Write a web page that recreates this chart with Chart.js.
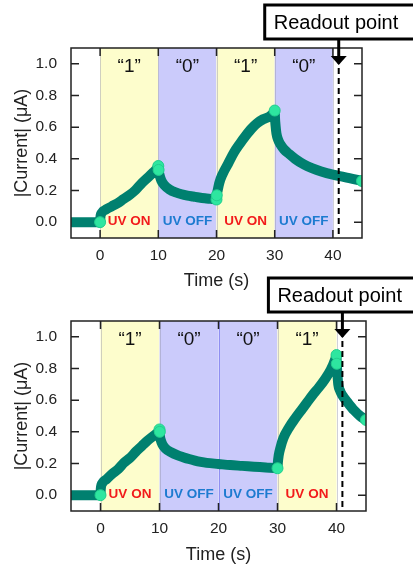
<!DOCTYPE html>
<html>
<head>
<meta charset="utf-8">
<script src="https://cdn.jsdelivr.net/npm/chart.js@4.4.1/dist/chart.umd.min.js"></script>
<style>
  html, body { margin: 0; padding: 0; background: #ffffff; }
  #wrap { position: relative; width: 413px; height: 566px; overflow: hidden; background: #fff; }
  canvas { position: absolute; left: 0; }
  #c1 { top: 0; }
  #c2 { top: 270px; }
</style>
</head>
<body>
<div id="wrap">
  <canvas id="c1" width="413" height="292"></canvas>
  <canvas id="c2" width="413" height="296"></canvas>
</div>
<script>
// ---------------- data ----------------
const xTicks = [0, 10, 20, 30, 40];
const yTicks = [0.0, 0.2, 0.4, 0.6, 0.8, 1.0];
const xTitle = "Time (s)";
const yTitle = "|Current| (\u03BCA)";
const readoutLabel = "Readout point";
const readoutTime = 41;

// top panel
const topTime = [-5, -2.5, 0, 0.05, 0.3, 1, 2, 3, 4, 5, 6, 7, 8, 9, 9.8, 10,
  10.05, 10.2, 10.5, 11, 12, 13, 14, 15, 16, 17, 18, 19, 20,
  20.05, 20.2, 20.5, 21, 22, 23, 24, 25, 26, 27, 28, 29, 29.8, 30,
  30.05, 30.15, 30.3, 30.6, 31, 31.6, 32.5, 33.5, 35, 36.5, 38, 40, 42, 45];
const topCurrent = [0, 0, 0, 0.03, 0.06, 0.08, 0.10, 0.12, 0.145, 0.17, 0.20, 0.24, 0.275, 0.31, 0.34, 0.355,
  0.33, 0.30, 0.265, 0.235, 0.205, 0.188, 0.176, 0.168, 0.162, 0.156, 0.151, 0.147, 0.143,
  0.17, 0.20, 0.25, 0.30, 0.37, 0.44, 0.495, 0.545, 0.59, 0.625, 0.65, 0.665, 0.69, 0.705,
  0.66, 0.61, 0.56, 0.52, 0.49, 0.46, 0.43, 0.40, 0.365, 0.34, 0.32, 0.30, 0.285, 0.26];
const topMarkTime = [0, 10, 10.05, 20, 20.05, 30, 45];
const topMarkCurrent = [0, 0.355, 0.33, 0.143, 0.17, 0.705, 0.26];
const topBits = ["\u201C1\u201D", "\u201C0\u201D", "\u201C1\u201D", "\u201C0\u201D"];
const topUV = ["UV ON", "UV OFF", "UV ON", "UV OFF"];

// bottom panel
const botTime = [-5, -2.5, 0, 0.05, 0.3, 1, 2, 3, 4, 5, 6, 7, 8, 9, 9.8, 10,
  10.05, 10.2, 10.5, 11, 12, 13, 14, 15, 16, 17, 18, 20, 22, 24, 26, 28, 30,
  30.05, 30.2, 30.5, 31, 32, 33, 34, 35, 36, 37, 38, 39, 39.8, 40,
  40.05, 40.15, 40.3, 40.6, 41, 42, 43, 44, 45];
const botCurrent = [0, 0, 0, 0.04, 0.075, 0.10, 0.135, 0.165, 0.205, 0.235, 0.275, 0.31, 0.345, 0.375, 0.40, 0.41,
  0.38, 0.35, 0.32, 0.295, 0.27, 0.253, 0.24, 0.228, 0.218, 0.21, 0.204, 0.197, 0.19, 0.185, 0.18, 0.175, 0.17,
  0.20, 0.25, 0.30, 0.36, 0.43, 0.485, 0.535, 0.585, 0.635, 0.68, 0.73, 0.79, 0.86, 0.885,
  0.83, 0.77, 0.70, 0.66, 0.63, 0.58, 0.535, 0.50, 0.475];
const botMarkTime = [0, 10, 10.05, 30, 40, 40.05, 45];
const botMarkCurrent = [0, 0.415, 0.40, 0.17, 0.885, 0.83, 0.475];
const botBits = ["\u201C1\u201D", "\u201C0\u201D", "\u201C0\u201D", "\u201C1\u201D"];
const botUV = ["UV ON", "UV OFF", "UV OFF", "UV ON"];

// band boundaries (s)
const bandEdges = [0, 10, 20, 30, 40];

// ---------------- drawing ----------------
const FONT = "'Liberation Sans', Arial, Helvetica, sans-serif";
const YELLOW = "#fdfdcc";
const BLUE = "#cbcbfb";
const UVCOL = { "UV ON": "#f21b1b", "UV OFF": "#1d7bd0" };

function pts(xs, ys) { return xs.map((x, i) => ({ x: x, y: ys[i] })); }

function decorPlugin(bits, uv, boxLeftOff) {
  return {
    id: 'decor',
    beforeDatasetsDraw(chart) {
      const { ctx, chartArea: a, scales: { x, y } } = chart;
      ctx.save();
      for (let i = 0; i < bandEdges.length - 1; i++) {
        const x0 = x.getPixelForValue(bandEdges[i]);
        const x1 = x.getPixelForValue(bandEdges[i + 1]);
        ctx.fillStyle = uv[i] === "UV ON" ? YELLOW : BLUE;
        ctx.fillRect(x0, a.top, x1 - x0, a.bottom - a.top);
      }
      ctx.lineWidth = 1;
      for (let i = 0; i < bandEdges.length; i++) {
        const px = Math.round(x.getPixelForValue(bandEdges[i])) + 0.5;
        const left = uv[i - 1], right = uv[i];
        if (left === "UV OFF" && right === "UV OFF") ctx.strokeStyle = "#8f8ff2";
        else ctx.strokeStyle = "rgba(150,150,170,0.45)";
        ctx.beginPath(); ctx.moveTo(px, a.top); ctx.lineTo(px, a.bottom); ctx.stroke();
      }
      ctx.strokeStyle = "#222";
      ctx.lineWidth = 1.5;
      const L = 8;
      ctx.beginPath();
      xTicks.forEach(v => {
        const px = x.getPixelForValue(v);
        ctx.moveTo(px, a.top); ctx.lineTo(px, a.top + L);
        ctx.moveTo(px, a.bottom); ctx.lineTo(px, a.bottom - L);
      });
      yTicks.forEach(v => {
        const py = y.getPixelForValue(v);
        ctx.moveTo(a.left, py); ctx.lineTo(a.left + L, py);
        ctx.moveTo(a.right, py); ctx.lineTo(a.right - L, py);
      });
      ctx.stroke();
      ctx.restore();
    },
    afterDatasetsDraw(chart) {
      const { ctx, chartArea: a, scales: { x, y } } = chart;
      ctx.save();
      for (let i = 0; i < bandEdges.length - 1; i++) {
        const cx = (x.getPixelForValue(bandEdges[i]) + x.getPixelForValue(bandEdges[i + 1])) / 2;
        ctx.textAlign = "center";
        ctx.textBaseline = "middle";
        ctx.fillStyle = "#111";
        ctx.font = "19px " + FONT;
        ctx.fillText(bits[i], cx, y.getPixelForValue(0.98));
        ctx.font = "bold 13.5px " + FONT;
        ctx.fillStyle = UVCOL[uv[i]];
        ctx.fillText(uv[i], cx, y.getPixelForValue(0.005));
      }
      const rx = x.getPixelForValue(readoutTime);
      ctx.strokeStyle = "#000";
      ctx.lineWidth = 2;
      ctx.setLineDash([6, 4]);
      ctx.beginPath(); ctx.moveTo(rx, a.top + 10); ctx.lineTo(rx, a.bottom); ctx.stroke();
      ctx.setLineDash([]);
      ctx.strokeStyle = "#222";
      ctx.lineWidth = 1.5;
      ctx.strokeRect(a.left, a.top, a.right - a.left, a.bottom - a.top);
      const bx = rx - boxLeftOff, bt = a.top - 43, bb = a.top - 9;
      ctx.fillStyle = "#fff";
      ctx.fillRect(bx, bt, 430 - bx, bb - bt);
      ctx.lineWidth = 3;
      ctx.strokeStyle = "#000";
      ctx.strokeRect(bx, bt, 430 - bx, bb - bt);
      ctx.fillStyle = "#000";
      ctx.font = "20px " + FONT;
      ctx.textAlign = "left";
      ctx.textBaseline = "middle";
      ctx.fillText(readoutLabel, bx + 9, (bt + bb) / 2 + 1);
      ctx.lineWidth = 3;
      ctx.beginPath(); ctx.moveTo(rx, bb); ctx.lineTo(rx, a.top + 9); ctx.stroke();
      ctx.beginPath();
      ctx.moveTo(rx - 8, a.top + 8);
      ctx.lineTo(rx + 8, a.top + 8);
      ctx.lineTo(rx, a.top + 17);
      ctx.closePath();
      ctx.fill();
      ctx.restore();
    }
  };
}

function makeChart(id, times, currents, mt, mc, bits, uv, pad, xh, titlePadBottom, boxOff) {
  return new Chart(document.getElementById(id), {
    type: 'line',
    data: {
      datasets: [
        {
          data: pts(mt, mc),
          showLine: false,
          pointRadius: 5.5,
          pointBackgroundColor: "#2ee6a0",
          pointBorderColor: "#22cf8e",
          pointBorderWidth: 1,
          order: 0
        },
        {
          data: pts(times, currents),
          borderColor: "#00806f",
          borderWidth: 10,
          borderCapStyle: 'round',
          borderJoinStyle: 'round',
          cubicInterpolationMode: 'monotone',
          pointRadius: 0,
          fill: false,
          order: 1
        }
      ]
    },
    options: {
      responsive: false,
      animation: false,
      devicePixelRatio: 1,
      layout: { padding: pad },
      plugins: { legend: { display: false }, tooltip: { enabled: false } },
      scales: {
        x: {
          type: 'linear', min: -5, max: 45,
          afterBuildTicks: s => { s.ticks = xTicks.map(v => ({ value: v })); },
          afterFit: s => { s.height = xh; },
          grid: { display: false },
          border: { display: false },
          ticks: { color: "#222", font: { family: FONT, size: 15.5 }, padding: 0, maxRotation: 0, autoSkip: false },
          title: { display: true, text: xTitle, color: "#222", font: { family: FONT, size: 18 }, padding: { top: 0, bottom: titlePadBottom } }
        },
        y: {
          type: 'linear', min: -0.1, max: 1.1,
          afterBuildTicks: s => { s.ticks = yTicks.map(v => ({ value: v })); },
          afterFit: s => { s.width = 71; },
          grid: { display: false },
          border: { display: false },
          ticks: { color: "#222", font: { family: FONT, size: 15.5 }, padding: 6, callback: v => Number(v).toFixed(1) },
          title: { display: true, text: yTitle, color: "#222", font: { family: FONT, size: 18 }, padding: { top: 11, bottom: 0 } }
        }
      }
    },
    plugins: [decorPlugin(bits, uv, boxOff)]
  });
}

makeChart('c1', topTime, topCurrent, topMarkTime, topMarkCurrent, topBits, topUV,
  { top: 48, right: 51, bottom: 0, left: 0 }, 54, 0, 74);
makeChart('c2', botTime, botCurrent, botMarkTime, botMarkCurrent, botBits, botUV,
  { top: 51, right: 47, bottom: 0, left: 0 }, 55, 0, 74);
</script>
</body>
</html>
